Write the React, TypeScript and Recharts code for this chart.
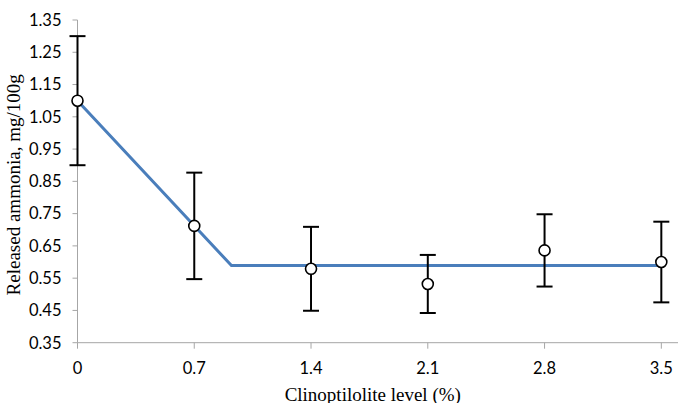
import React from 'react';
import { ComposedChart, Line, Scatter, XAxis, YAxis, ErrorBar } from 'recharts';

const levels = [0, 0.7, 1.4, 2.1, 2.8, 3.5];
const ammonia = [1.1, 0.712, 0.579, 0.532, 0.636, 0.6];
const errors = [0.2, 0.165, 0.13, 0.09, 0.112, 0.125];

const fitX = [0, 0.923, 3.5];
const fitY = [1.1, 0.589, 0.589];

const yTicks = [0.35, 0.45, 0.55, 0.65, 0.75, 0.85, 0.95, 1.05, 1.15, 1.25, 1.35];
const xTicks = [0, 0.7, 1.4, 2.1, 2.8, 3.5];

const xTitle = 'Clinoptilolite level (%)';
const yTitle = 'Released ammonia, mg/100g';

const points = levels.map((x, i) => ({ x, y: ammonia[i], err: errors[i] }));
const fit = fitX.map((x, i) => ({ x, y: fitY[i] }));

const axisColor = '#a6a6a6';
const tickFont = { fontFamily: 'Lato', fontSize: 16.5, fill: '#000' };

const Marker = (props: any) => {
  const { cx, cy } = props;
  if (cx == null || cy == null) return null;
  return <circle cx={cx} cy={cy} r={5.5} fill="#fff" stroke="#000" strokeWidth={1.6} />;
};

const XTitle = (props: any) => {
  const vb = props.viewBox || {};
  return (
    <text
      x={vb.x + vb.width / 2 - 5}
      y={vb.y + vb.height - 2.5}
      textAnchor="middle"
      fontFamily="'Liberation Serif', 'Times New Roman', serif"
      fontSize={19}
      fill="#000"
    >
      {xTitle}
    </text>
  );
};

const YTitle = (props: any) => {
  const vb = props.viewBox || {};
  const x = vb.x + 20;
  const y = vb.y + vb.height / 2 + 3.5;
  return (
    <text
      x={x}
      y={y}
      transform={`rotate(-90, ${x}, ${y})`}
      textAnchor="middle"
      fontFamily="'Liberation Serif', 'Times New Roman', serif"
      fontSize={19}
      fill="#000"
    >
      {yTitle}
    </text>
  );
};

export default function App() {
  return (
    <div style={{ position: 'absolute', left: 0, top: 0, width: 678, height: 403, background: '#fff' }}>
      <ComposedChart width={678} height={403} margin={{ top: 20, right: 0, bottom: 0, left: 0 }}>
        <XAxis
          type="number"
          dataKey="x"
          domain={[0, 3.6]}
          ticks={xTicks}
          tickFormatter={(v: number) => String(v)}
          stroke={axisColor}
          tickLine={{ stroke: axisColor }}
          tick={tickFont}
          tickSize={6}
          tickMargin={14}
          height={60.3}
          label={<XTitle />}
        />
        <YAxis
          type="number"
          domain={[0.35, 1.35]}
          ticks={yTicks}
          tickFormatter={(v: number) => v.toFixed(2)}
          stroke={axisColor}
          tickLine={{ stroke: axisColor }}
          tick={tickFont}
          tickSize={5}
          tickMargin={11}
          width={77.5}
          label={<YTitle />}
        />
        <Line
          data={fit}
          dataKey="y"
          type="linear"
          stroke="#4a7ebb"
          strokeWidth={3}
          dot={false}
          activeDot={false}
          isAnimationActive={false}
        />
        <Scatter data={points} dataKey="y" shape={<Marker />} isAnimationActive={false} zIndex={1000}>
          <ErrorBar dataKey="err" direction="y" width={8} stroke="#000" strokeWidth={2} zIndex={900} />
        </Scatter>
      </ComposedChart>
    </div>
  );
}
